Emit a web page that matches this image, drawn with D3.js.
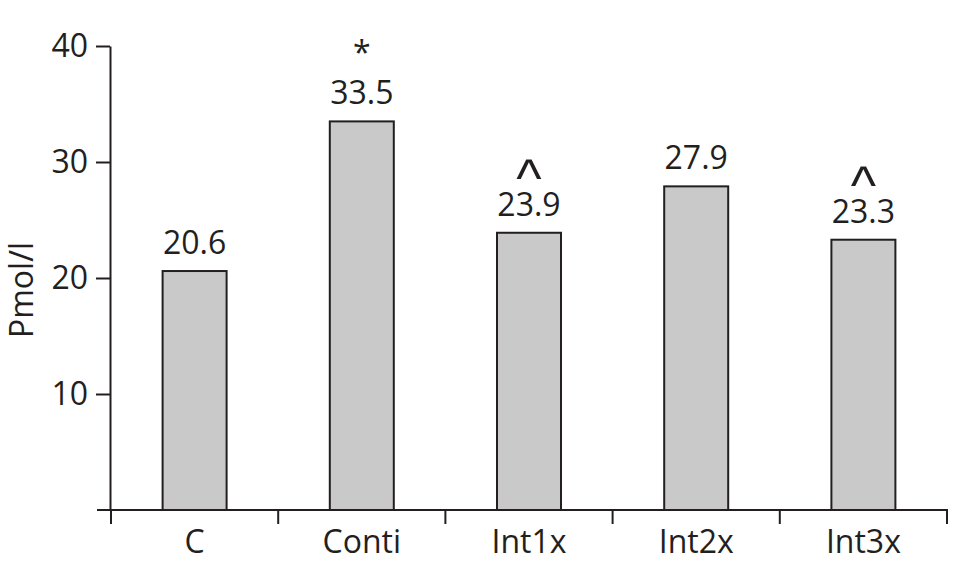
<!DOCTYPE html>
<html><head><meta charset="utf-8">
<script src="https://cdn.jsdelivr.net/npm/d3@7"></script>
<style>body{margin:0;background:#fff}svg{display:block}text{font-family:"Open Sans",sans-serif;fill:#231f20}</style>
</head><body><svg id="c" width="970" height="574"></svg>
<script>
const categories = ["C","Conti","Int1x","Int2x","Int3x"];
const values = [20.6,33.5,23.9,27.9,23.3];
const marks = ["","*","^","","^"];
const yTicks = [10,20,30,40];
const yLabel = "Pmol/l";

const svg = d3.select("#c");
const ink = "#231f20";
const x = d3.scaleBand().domain(categories).range([111,947]).paddingInner(0).paddingOuter(0);
const y = d3.scaleLinear().domain([0,40]).range([510,46]);
const barW = 64;

// bars
svg.append("g").selectAll("rect").data(categories).join("rect")
  .attr("x", c => x(c) + (x.bandwidth()-barW)/2)
  .attr("y", (c,i) => y(values[i]))
  .attr("width", barW)
  .attr("height", (c,i) => y(0) - y(values[i]))
  .attr("fill", "#c8c9c8").attr("stroke", ink).attr("stroke-width", 2);

// value labels
svg.append("g").selectAll("text").data(categories).join("text")
  .attr("x", c => x(c) + x.bandwidth()/2)
  .attr("y", (c,i) => y(values[i]) - 17)
  .attr("text-anchor","middle").attr("font-size",32)
  .text((c,i) => values[i].toFixed(1));

// significance marks
svg.append("g").selectAll("text").data(categories).join("text")
  .attr("x", c => x(c) + x.bandwidth()/2)
  .attr("y", (c,i) => y(values[i]) - 17 - (marks[i]==="*" ? 40 : 19))
  .attr("text-anchor","middle")
  .attr("font-size", (c,i) => marks[i]==="*" ? 32 : 54)
  .style("font-family", (c,i) => marks[i]==="*" ? null : "Liberation Sans")
  .text((c,i) => marks[i]);

// y axis
const ya = svg.append("g").attr("transform","translate(110,0)")
  .call(d3.axisLeft(y).tickValues(yTicks).tickSize(14).tickPadding(8).tickSizeOuter(0));
ya.select(".domain").attr("stroke",ink).attr("stroke-width",2);
ya.selectAll(".tick line").attr("stroke",ink).attr("stroke-width",2);
ya.selectAll(".tick text").attr("font-size",32).attr("font-family",null).attr("fill",ink);

// x axis
const xg = svg.append("g");
xg.append("line").attr("x1",97).attr("x2",x.range()[1]+1).attr("y1",y(0)).attr("y2",y(0))
  .attr("stroke",ink).attr("stroke-width",2);
const bounds = categories.map(c => x(c)).concat([x.range()[1]]);
xg.selectAll("line.t").data(bounds).join("line").attr("class","t")
  .attr("x1",d=>d).attr("x2",d=>d).attr("y1",y(0)).attr("y2",y(0)+14)
  .attr("stroke",ink).attr("stroke-width",2);
xg.selectAll("text").data(categories).join("text")
  .attr("x", c => x(c) + x.bandwidth()/2).attr("y", 553)
  .attr("text-anchor","middle").attr("font-size",32).text(c => c);

// y label
svg.append("text").attr("transform","translate(33,290) rotate(-90)")
  .attr("text-anchor","middle").attr("font-size",32).text(yLabel);
</script></body></html>
